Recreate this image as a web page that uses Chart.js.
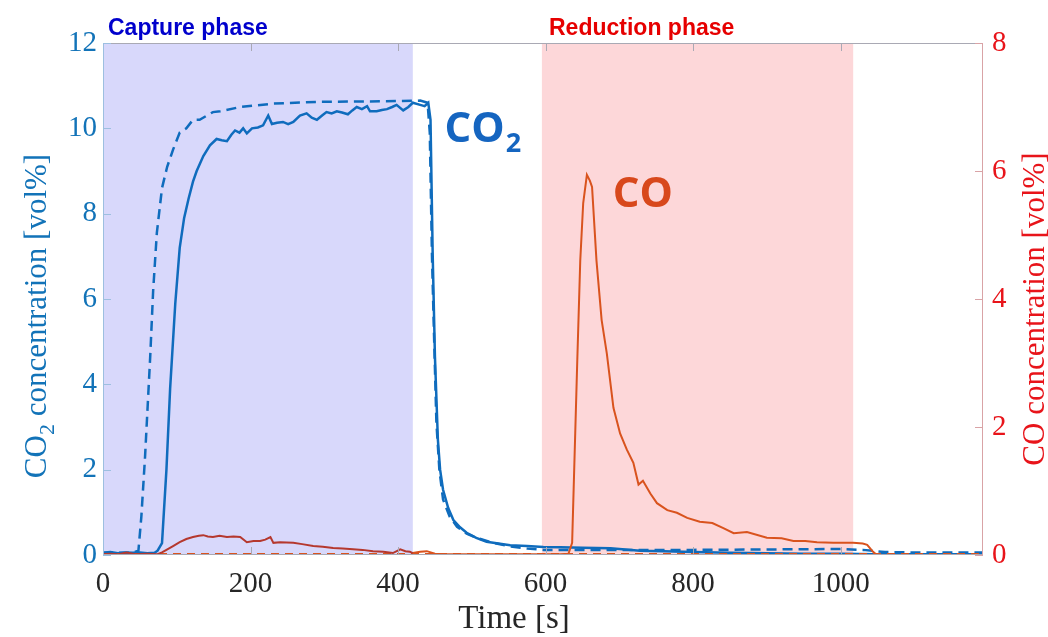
<!DOCTYPE html>
<html>
<head>
<meta charset="utf-8">
<script src="https://cdn.jsdelivr.net/npm/chart.js@4/dist/chart.umd.min.js"></script>
<style>
  html, body { margin: 0; padding: 0; background: #ffffff; }
  canvas { display: block; }
</style>
</head>
<body>
<canvas id="c" width="1048" height="637"></canvas>
<script>
// Time axis ticks and the two concentration axes
const xTicks = [0, 200, 400, 600, 800, 1000];
const co2Ticks = [0, 2, 4, 6, 8, 10, 12];
const coTicks = [0, 2, 4, 6, 8];

// Process phases [start, end] in seconds
const capturePhase = [0, 420];
const reductionPhase = [595, 1017];

// Measured CO2 outlet concentration [vol%]
const co2MeasTime = [0, 10, 20, 30, 40, 50, 60, 70, 74, 80, 86, 91, 98, 104, 110, 116, 122, 127, 136, 145,
  154, 161, 168, 174, 179, 185, 190, 195, 202, 210, 217, 224, 229, 236, 244, 251, 258, 267, 276, 283,
  290, 297, 303, 310, 317, 324, 332, 338, 344, 351, 358, 362, 371, 378, 385, 392, 398, 407, 414, 420,
  430, 436, 441, 444, 447, 450, 454, 457, 461, 468, 475, 484, 493, 506, 520, 536, 552, 575, 597, 620,
  650, 688, 728, 760, 800, 850, 900, 950, 1000, 1050, 1100, 1150, 1193];
const co2MeasValue = [0.05, 0.07, 0.04, 0.06, 0.05, 0.06, 0.04, 0.05, 0.1, 0.28, 2.0, 3.9, 5.9, 7.2, 7.9, 8.35, 8.75, 9.0, 9.35, 9.6,
  9.75, 9.72, 9.7, 9.85, 9.95, 9.9, 10.0, 9.88, 10.0, 10.02, 10.07, 10.3, 10.1, 10.13, 10.15, 10.1, 10.15, 10.3, 10.35, 10.25,
  10.2, 10.3, 10.38, 10.35, 10.4, 10.37, 10.33, 10.42, 10.5, 10.45, 10.52, 10.4, 10.4, 10.43, 10.45, 10.5, 10.55, 10.42, 10.5, 10.6,
  10.55, 10.52, 10.6, 10.2, 7.0, 4.65, 2.7, 2.0, 1.53, 1.1, 0.82, 0.65, 0.52, 0.4, 0.31, 0.27, 0.23, 0.21, 0.19, 0.18,
  0.17, 0.16, 0.1, 0.09, 0.07, 0.05, 0.04, 0.03, 0.03, 0.02, 0.02, 0.02, 0.02];

// Model CO2 concentration [vol%]
const co2ModelTime = [0, 20, 40, 48, 52, 57, 64, 68, 73, 80, 87, 95, 104, 113, 122, 131, 149, 159, 186, 231,
  290, 358, 400, 430, 440, 443, 446, 449, 452, 456, 461, 470, 480, 493, 507, 530, 552, 575, 597, 650,
  700, 800, 900, 1000, 1030, 1060, 1100, 1150, 1193];
const co2ModelValue = [0.05, 0.05, 0.05, 0.1, 0.9, 2.3, 4.65, 6.2, 7.55, 8.6, 9.1, 9.5, 9.9, 10.0, 10.2, 10.2, 10.38, 10.4, 10.5, 10.58,
  10.62, 10.63, 10.64, 10.65, 10.6, 9.9, 7.0, 5.0, 3.1, 2.0, 1.3, 0.9, 0.66, 0.5, 0.4, 0.28, 0.2, 0.15, 0.12, 0.12,
  0.12, 0.12, 0.13, 0.14, 0.12, 0.07, 0.06, 0.06, 0.06];

// Measured CO during the capture phase [vol%]
const coCaptureTime = [0, 10, 20, 32, 45, 60, 73, 80, 86, 95, 104, 113, 122, 130, 136, 142, 149, 158, 168, 177,
  186, 195, 204, 213, 220, 227, 231, 240, 258, 270, 285, 298, 312, 325, 339, 352, 366, 380, 393, 403,
  410, 416, 420];
const coCaptureValue = [0.01, 0.02, 0.01, 0.04, 0.01, 0.02, 0.01, 0.04, 0.08, 0.14, 0.2, 0.25, 0.28, 0.3, 0.31, 0.29, 0.28, 0.3, 0.28, 0.29,
  0.28, 0.2, 0.22, 0.22, 0.24, 0.28, 0.19, 0.2, 0.19, 0.17, 0.14, 0.13, 0.11, 0.1, 0.09, 0.08, 0.06, 0.05, 0.03, 0.09,
  0.06, 0.05, 0.03];

// Measured CO from the end of capture onward [vol%]
const coMeasTime = [420, 430, 439, 450, 460, 480, 500, 550, 600, 620, 631, 636, 643, 647, 651, 656, 660, 663, 669, 676,
  683, 692, 701, 710, 719, 726, 732, 742, 751, 765, 778, 792, 809, 826, 841, 855, 873, 900, 920, 936,
  952, 968, 990, 1017, 1030, 1036, 1044, 1049, 1060, 1100, 1150, 1193];
const coMeasValue = [0.03, 0.05, 0.06, 0.02, 0.01, 0.01, 0.01, 0.01, 0.01, 0.01, 0.02, 0.19, 3.05, 4.6, 5.5, 5.94, 5.85, 5.75, 4.6, 3.67,
  3.15, 2.3, 1.9, 1.65, 1.44, 1.1, 1.16, 0.96, 0.81, 0.7, 0.66, 0.58, 0.52, 0.5, 0.42, 0.34, 0.36, 0.27, 0.26, 0.22,
  0.22, 0.2, 0.19, 0.19, 0.18, 0.16, 0.05, 0.0, 0.0, 0.0, 0.0, 0.0];

// Model CO concentration [vol%]
const coModelTime = [0, 300, 600, 900, 1193];
const coModelValue = [0.02, 0.02, 0.02, 0.02, 0.02];

const BLUE = '#0f6cbd';
const ORANGE = '#d9531e';
const DARKRED = '#b5382e';
const AXIS_BLUE = '#1273b8';
const AXIS_RED = '#e8141a';
const SERIF = '"Liberation Serif", "Times New Roman", serif';

const pts = (t, v) => t.map((x, i) => ({ x: x, y: v[i] }));

// Shaded phases, box frame with inward ticks, and the text annotations
const decorations = {
  id: 'decorations',
  beforeDatasetsDraw(chart) {
    const { ctx, chartArea: a, scales } = chart;
    const x = scales.x;
    ctx.save();
    ctx.fillStyle = '#d8d8fb';
    ctx.fillRect(x.getPixelForValue(capturePhase[0]), a.top,
      x.getPixelForValue(capturePhase[1]) - x.getPixelForValue(capturePhase[0]), a.bottom - a.top);
    ctx.fillStyle = '#fdd7d9';
    ctx.fillRect(x.getPixelForValue(reductionPhase[0]), a.top,
      x.getPixelForValue(reductionPhase[1]) - x.getPixelForValue(reductionPhase[0]), a.bottom - a.top);
    ctx.restore();
  },
  afterDatasetsDraw(chart) {
    const { ctx, chartArea: a, scales } = chart;
    const tl = 8;
    ctx.save();
    ctx.lineWidth = 1;
    // top and bottom edges
    ctx.strokeStyle = '#a9a9b4';
    ctx.beginPath();
    ctx.moveTo(a.left, a.top + 0.5); ctx.lineTo(a.right, a.top + 0.5);
    ctx.moveTo(a.left, a.bottom - 0.5); ctx.lineTo(a.right, a.bottom - 0.5);
    xTicks.forEach(v => {
      const px = Math.round(scales.x.getPixelForValue(v)) + 0.5;
      ctx.moveTo(px, a.top); ctx.lineTo(px, a.top + tl);
      ctx.moveTo(px, a.bottom); ctx.lineTo(px, a.bottom - tl);
    });
    ctx.stroke();
    // left edge (CO2 axis)
    ctx.strokeStyle = '#9dbfe0';
    ctx.beginPath();
    ctx.moveTo(a.left + 0.5, a.top); ctx.lineTo(a.left + 0.5, a.bottom);
    co2Ticks.forEach(v => {
      const py = Math.round(scales.y.getPixelForValue(v)) + 0.5;
      ctx.moveTo(a.left, py); ctx.lineTo(a.left + tl, py);
    });
    ctx.stroke();
    // right edge (CO axis)
    ctx.strokeStyle = '#d9a3a6';
    ctx.beginPath();
    ctx.moveTo(a.right - 0.5, a.top); ctx.lineTo(a.right - 0.5, a.bottom);
    coTicks.forEach(v => {
      const py = Math.round(scales.y2.getPixelForValue(v)) + 0.5;
      ctx.moveTo(a.right, py); ctx.lineTo(a.right - tl, py);
    });
    ctx.stroke();
    ctx.restore();
  },
  afterDraw(chart) {
    const { ctx, chartArea: a, scales } = chart;
    ctx.save();
    ctx.textBaseline = 'alphabetic';

    // phase headings
    ctx.font = 'bold 23px "Liberation Sans", Arial, sans-serif';
    ctx.fillStyle = '#0000cc';
    ctx.textAlign = 'left';
    ctx.fillText('Capture phase', 108, 35);
    ctx.fillStyle = '#e60000';
    ctx.fillText('Reduction phase', 549, 35);

    // series names next to the curves
    const co2x = scales.x.getPixelForValue(463);
    const co2y = scales.y.getPixelForValue(9.68);
    ctx.fillStyle = '#1565c0';
    ctx.font = 'bold 42px "Open Sans", sans-serif';
    ctx.fillText('CO', co2x, co2y);
    const w = ctx.measureText('CO').width;
    ctx.font = 'bold 27px "Open Sans", sans-serif';
    ctx.fillText('2', co2x + w + 1, co2y + 10);

    const cox = scales.x.getPixelForValue(691);
    const coy = scales.y2.getPixelForValue(5.44);
    ctx.fillStyle = '#d8481c';
    ctx.font = 'bold 42px "Open Sans", sans-serif';
    ctx.fillText('CO', cox, coy);

    // x-axis title
    ctx.fillStyle = '#262626';
    ctx.font = '33px ' + SERIF;
    ctx.textAlign = 'center';
    ctx.fillText('Time [s]', 514, 628);

    // left axis title with subscript
    ctx.save();
    ctx.translate(46, 316);
    ctx.rotate(-Math.PI / 2);
    ctx.fillStyle = AXIS_BLUE;
    ctx.textAlign = 'left';
    const big = '31px ' + SERIF, small = '22px ' + SERIF;
    ctx.font = big; const w1 = ctx.measureText('CO').width;
    const w3 = ctx.measureText(' concentration [vol%]').width;
    ctx.font = small; const w2 = ctx.measureText('2').width;
    let sx = -(w1 + w2 + w3) / 2;
    ctx.font = big; ctx.fillText('CO', sx, 0); sx += w1;
    ctx.font = small; ctx.fillText('2', sx, 8); sx += w2;
    ctx.font = big; ctx.fillText(' concentration [vol%]', sx, 0);
    ctx.restore();

    // right axis title
    ctx.save();
    ctx.translate(1044, 309);
    ctx.rotate(-Math.PI / 2);
    ctx.fillStyle = AXIS_RED;
    ctx.textAlign = 'center';
    ctx.font = '31px ' + SERIF;
    ctx.fillText('CO concentration [vol%]', 0, 0);
    ctx.restore();

    ctx.restore();
  }
};

const tickFont = { family: SERIF, size: 29 };
const plainLabel = v => String(v);

new Chart(document.getElementById('c'), {
  type: 'line',
  data: {
    datasets: [
      { label: 'CO capture', data: pts(coCaptureTime, coCaptureValue), yAxisID: 'y2',
        borderColor: DARKRED, borderWidth: 2, pointRadius: 0, tension: 0, fill: false },
      { label: 'CO model', data: pts(coModelTime, coModelValue), yAxisID: 'y2',
        borderColor: ORANGE, borderWidth: 1.6, borderDash: [8, 6], pointRadius: 0, tension: 0, fill: false },
      { label: 'CO', data: pts(coMeasTime, coMeasValue), yAxisID: 'y2',
        borderColor: ORANGE, borderWidth: 2, pointRadius: 0, tension: 0, fill: false },
      { label: 'CO2 model', data: pts(co2ModelTime, co2ModelValue), yAxisID: 'y',
        borderColor: BLUE, borderWidth: 2.5, borderDash: [10, 6], pointRadius: 0, tension: 0, fill: false },
      { label: 'CO2', data: pts(co2MeasTime, co2MeasValue), yAxisID: 'y',
        borderColor: BLUE, borderWidth: 2.5, pointRadius: 0, tension: 0, fill: false }
    ]
  },
  options: {
    responsive: false,
    animation: false,
    devicePixelRatio: 1,
    layout: { padding: { top: 43, left: 0, right: 0, bottom: 0 } },
    plugins: { legend: { display: false }, tooltip: { enabled: false } },
    scales: {
      x: {
        type: 'linear', min: 0, max: 1193,
        afterBuildTicks: s => { s.ticks = xTicks.map(v => ({ value: v })); },
        afterFit: s => { s.height = 82; },
        grid: { display: false, drawTicks: false }, border: { display: false },
        ticks: { font: tickFont, color: '#262626', padding: 12, maxRotation: 0, autoSkip: false, callback: plainLabel }
      },
      y: {
        position: 'left', min: 0, max: 12,
        afterBuildTicks: s => { s.ticks = co2Ticks.map(v => ({ value: v })); },
        afterFit: s => { s.width = 103; },
        grid: { display: false, drawTicks: false }, border: { display: false },
        ticks: { font: tickFont, color: AXIS_BLUE, padding: 6, autoSkip: false, callback: plainLabel }
      },
      y2: {
        position: 'right', min: 0, max: 8,
        afterBuildTicks: s => { s.ticks = coTicks.map(v => ({ value: v })); },
        afterFit: s => { s.width = 65; },
        grid: { display: false, drawTicks: false }, border: { display: false },
        ticks: { font: tickFont, color: AXIS_RED, padding: 9, autoSkip: false, callback: plainLabel }
      }
    }
  },
  plugins: [decorations]
});
</script>
</body>
</html>
